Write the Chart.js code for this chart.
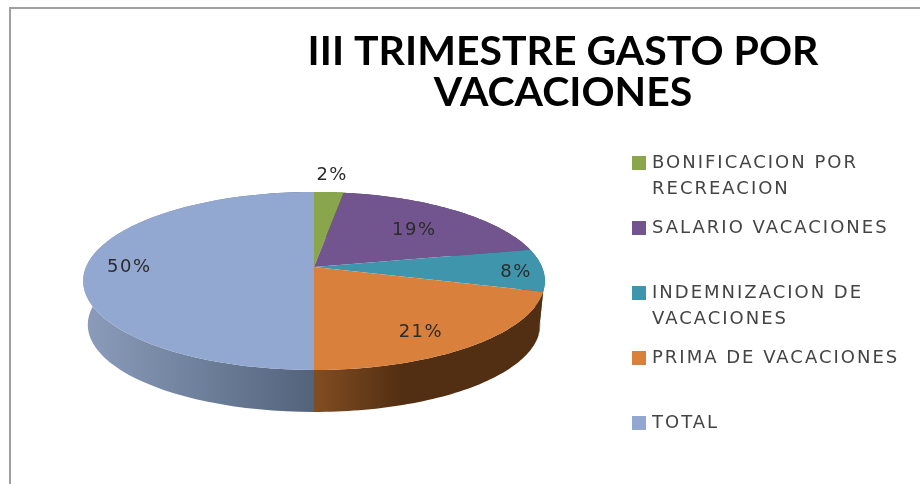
<!DOCTYPE html>
<html>
<head>
<meta charset="utf-8">
<title>III TRIMESTRE GASTO POR VACACIONES</title>
<script src="https://cdn.jsdelivr.net/npm/chart.js@4/dist/chart.umd.min.js"></script>
<style>
  html, body { margin: 0; padding: 0; background: #fff; overflow: hidden; }
  canvas { display: block; filter: blur(0.7px); }
</style>
</head>
<body>
<canvas id="pie" width="920" height="484"></canvas>
<script>
const titleLines = ['III TRIMESTRE GASTO POR', 'VACACIONES'];
const categories = [
  ['BONIFICACION POR', 'RECREACION'],
  ['SALARIO VACACIONES'],
  ['INDEMNIZACION DE', 'VACACIONES'],
  ['PRIMA DE VACACIONES'],
  ['TOTAL']
];
const values = [2.4, 19.3, 7.7, 20.6, 50];
const valueLabels = ['2%', '19%', '8%', '21%', '50%'];

const topColors = ['#8aa64c', '#72558e', '#3f95ac', '#d9803c', '#92a8d0'];
const sideColors = [
  ['#5d7232', '#5d7232'],
  ['#4a3860', '#4a3860'],
  ['#2a6576', '#2a6576'],
  ['#824d22', '#522e12'],
  ['#53637c', '#8b9dbb']
];
const labelRadius = [1.27, 0.65, 0.88, 0.79, 0.81];
const labelTurn = [0, 3, 2, 5, 0]; // degrees off the middle of the slice

// the pie is seen in perspective, so the centre sits above the middle of the ellipse
const tilt = 0.157;
const squashX = 0.987;
const squashY = 0.376;
const apexDrop = 25;
const depth = 44;
const baseScale = 0.98;

function project(arc, angle, r) {
  const R = arc.outerRadius;
  const w = 1 - tilt * r * Math.sin(angle);
  return {
    x: arc.x + R * squashX * r * Math.cos(angle) / w,
    y: arc.y + apexDrop + R * squashY * r * Math.sin(angle) / w
  };
}

function projectBase(arc, angle) {
  const p = project(arc, angle, 1);
  const y0 = arc.y + apexDrop;
  return {
    x: arc.x + (p.x - arc.x) * baseScale,
    y: y0 + (p.y - y0) * baseScale + depth
  };
}

const pie3d = {
  id: 'pie3d',
  beforeDraw(chart) {
    const { ctx, width, height } = chart;
    ctx.save();
    ctx.fillStyle = '#fff';
    ctx.fillRect(0, 0, width, height);
    ctx.fillStyle = '#a0a0a0';
    ctx.fillRect(9, 7, width - 9, 2);
    ctx.fillRect(9, 7, 2, height - 7);
    ctx.restore();
  },
  beforeDatasetsDraw(chart) {
    const { ctx } = chart;
    const arcs = chart.getDatasetMeta(0).data;
    const steps = 60;

    ctx.save();
    // rim first, the top face covers whatever is behind it
    arcs.forEach((arc, i) => {
      const grad = ctx.createLinearGradient(arc.x, 0, i === 4 ? arc.x - arc.outerRadius : arc.x + 90, 0);
      grad.addColorStop(0, sideColors[i][0]);
      grad.addColorStop(1, sideColors[i][1]);
      ctx.fillStyle = grad;
      ctx.beginPath();
      for (let s = 0; s <= steps; s++) {
        const a = arc.startAngle + (arc.endAngle - arc.startAngle) * s / steps;
        const p = project(arc, a, 1);
        ctx.lineTo(p.x, p.y);
      }
      for (let s = steps; s >= 0; s--) {
        const a = arc.startAngle + (arc.endAngle - arc.startAngle) * s / steps;
        const p = projectBase(arc, a);
        ctx.lineTo(p.x, p.y);
      }
      ctx.closePath();
      ctx.fill();
    });

    arcs.forEach((arc, i) => {
      const c = project(arc, 0, 0);
      ctx.fillStyle = topColors[i];
      ctx.beginPath();
      ctx.moveTo(c.x, c.y);
      for (let s = 0; s <= steps; s++) {
        const a = arc.startAngle + (arc.endAngle - arc.startAngle) * s / steps;
        const p = project(arc, a, 1);
        ctx.lineTo(p.x, p.y);
      }
      ctx.closePath();
      ctx.fill();
    });

    ctx.fillStyle = '#2b2b2b';
    ctx.font = '18px "DejaVu Sans"';
    ctx.letterSpacing = '1.5px';
    ctx.textAlign = 'center';
    ctx.textBaseline = 'middle';
    arcs.forEach((arc, i) => {
      const mid = (arc.startAngle + arc.endAngle) / 2 + labelTurn[i] * Math.PI / 180;
      const p = project(arc, mid, labelRadius[i]);
      ctx.fillText(valueLabels[i], p.x, p.y);
    });
    ctx.restore();
    return false;
  },
  afterDraw(chart) {
    const { ctx } = chart;
    ctx.save();
    ctx.fillStyle = '#000';
    ctx.font = 'bold 41px Lato';
    ctx.textAlign = 'center';
    ctx.textBaseline = 'middle';
    titleLines.forEach((line, i) => ctx.fillText(line, 563, 52 + i * 41));

    ctx.textAlign = 'left';
    ctx.font = '18px "DejaVu Sans"';
    ctx.letterSpacing = '2px';
    chart.data.labels.forEach((lines, i) => {
      const y = 163 + i * 65;
      ctx.fillStyle = topColors[i];
      ctx.fillRect(632, y - 7, 14, 14);
      ctx.fillStyle = '#444';
      lines.forEach((line, k) => ctx.fillText(line, 652, y + k * 26));
    });
    ctx.restore();
  }
};

new Chart(document.getElementById('pie'), {
  type: 'pie',
  data: {
    labels: categories,
    datasets: [{ data: values, backgroundColor: topColors, borderWidth: 0 }]
  },
  options: {
    responsive: false,
    animation: false,
    layout: { padding: { left: 83, right: 375, top: 11, bottom: 11 } },
    plugins: { legend: { display: false }, title: { display: false }, tooltip: { enabled: false } }
  },
  plugins: [pie3d]
});
</script>
</body>
</html>
